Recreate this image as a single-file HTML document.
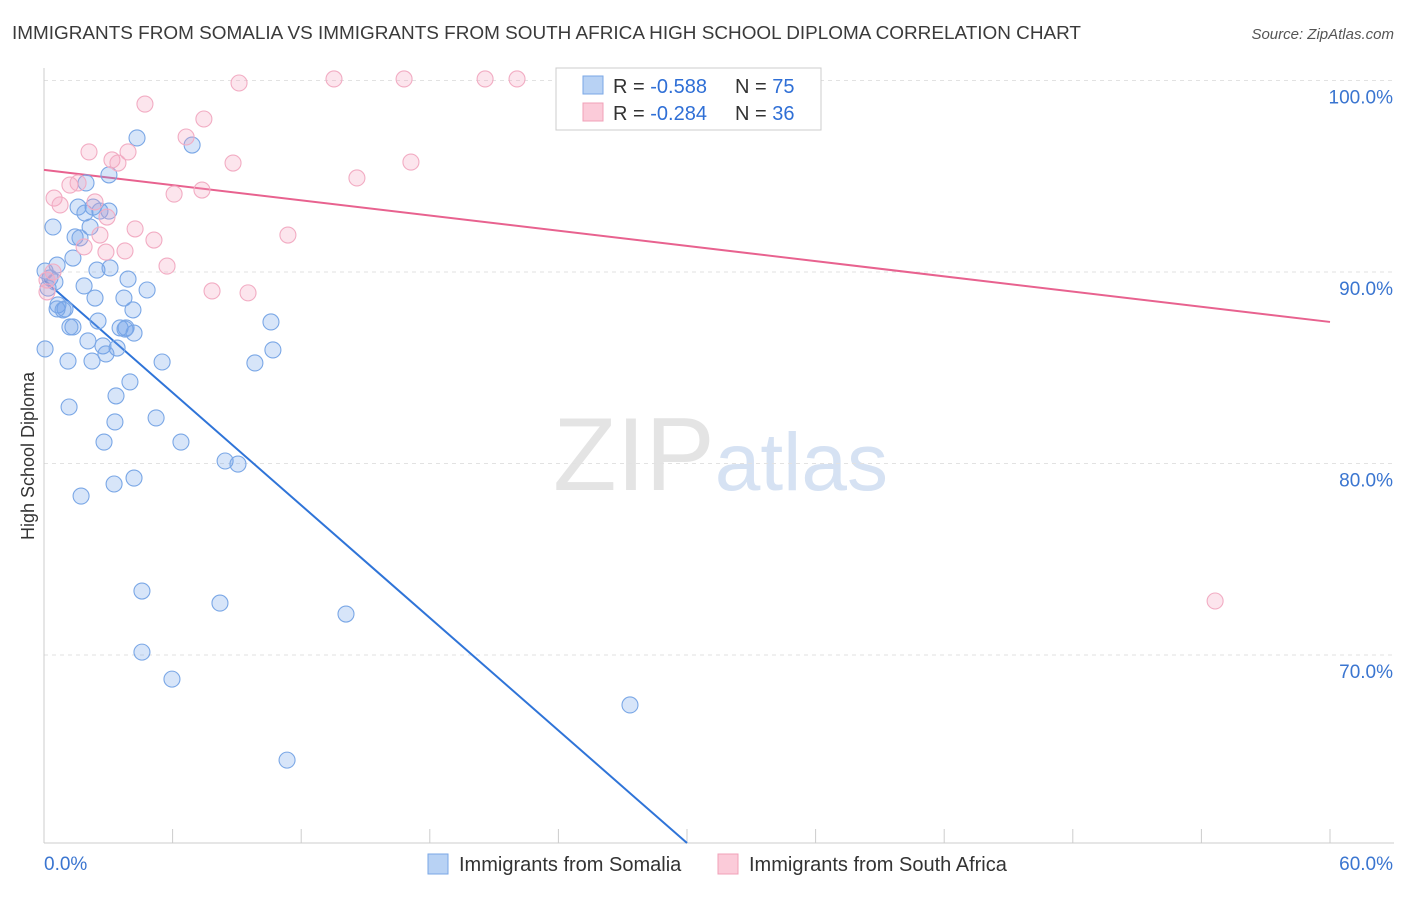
<!DOCTYPE html>
<html><head><meta charset="utf-8">
<style>
body{margin:0;background:#fff;font-family:"Liberation Sans",sans-serif;}
svg text{font-family:"Liberation Sans",sans-serif;}
</style></head>
<body>
<svg id="chart" width="1406" height="892" xmlns="http://www.w3.org/2000/svg">
<text x="12" y="39" font-size="18" fill="#3a3a3a" textLength="1069" lengthAdjust="spacingAndGlyphs">IMMIGRANTS FROM SOMALIA VS IMMIGRANTS FROM SOUTH AFRICA HIGH SCHOOL DIPLOMA CORRELATION CHART</text>
<text x="1394" y="39" font-size="15" fill="#555" font-style="italic" text-anchor="end">Source: ZipAtlas.com</text>
<text x="553" y="490" font-size="104" fill="#e4e4e4" font-family="Liberation Serif">ZIP<tspan fill="#d6e2f3" font-family="Liberation Sans" font-size="82">atlas</tspan></text>
<text transform="translate(34,456) rotate(-90)" font-size="18" fill="#333" text-anchor="middle">High School Diploma</text>
<g id="grid"></g><g id="axes"></g><g id="lines"></g><g id="pts"></g>
<g>
<rect x="556" y="68" width="265" height="62" fill="#fff" stroke="#ccc"/>
<rect x="583" y="76" width="20" height="18" fill="#b8d2f4" stroke="#7aa7e6"/>
<text x="613" y="93" font-size="20" fill="#333">R = <tspan fill="#2f6fd6">-0.588</tspan></text>
<text x="735" y="93" font-size="20" fill="#333">N = <tspan fill="#2f6fd6">75</tspan></text>
<rect x="583" y="103" width="20" height="18" fill="#fbcbd9" stroke="#f0a0b8"/>
<text x="613" y="120" font-size="20" fill="#333">R = <tspan fill="#2f6fd6">-0.284</tspan></text>
<text x="735" y="120" font-size="20" fill="#333">N = <tspan fill="#2f6fd6">36</tspan></text>
</g>
<g>
<rect x="428" y="854" width="20" height="20" fill="#b8d2f4" stroke="#7aa7e6"/>
<text x="459" y="871" font-size="20" fill="#333">Immigrants from Somalia</text>
<rect x="718" y="854" width="20" height="20" fill="#fbcbd9" stroke="#f0a0b8"/>
<text x="749" y="871" font-size="20" fill="#333">Immigrants from South Africa</text>
</g>
</svg>
<script>
const blueX=[4.34,6.91,3.03,1.96,0.42,1.59,2.29,2.61,3.03,1.91,1.45,1.68,2.15,1.35,0.61,0.05,0.28,0.51,0.19,2.47,3.08,3.92,4.81,1.87,2.38,3.73,0.65,0.98,0.61,4.15,2.52,1.35,1.21,3.55,3.83,4.20,2.05,2.75,3.41,2.89,0.05,1.12,2.24,5.51,9.84,10.68,10.59,4.01,3.36,1.17,5.23,3.31,2.80,6.39,8.45,9.05,4.20,3.27,1.73,4.57,8.21,14.09,4.57,5.97,27.34,11.34,0.89,3.78];
const blueY=[97.0,96.63,95.07,94.65,92.35,93.39,93.39,93.18,93.18,93.08,91.83,91.78,92.35,90.73,90.36,90.05,89.69,89.48,89.16,90.10,90.21,89.63,89.06,89.27,88.64,88.64,88.28,88.07,88.07,88.02,87.44,87.13,87.13,87.08,87.08,86.81,86.40,86.14,86.03,85.72,85.98,85.35,85.35,85.30,85.25,85.93,87.39,84.26,83.53,82.95,82.38,82.17,81.12,81.12,80.13,79.97,79.24,78.93,78.30,73.34,72.71,72.14,70.15,68.74,67.39,64.51,88.02,87.02];
const pinkX=[4.71,9.10,13.53,16.80,20.58,22.07,33.55,7.46,6.63,2.10,3.92,3.17,3.45,8.82,17.12,14.60,1.21,1.59,0.47,0.75,2.38,6.07,7.37,2.94,4.25,2.61,11.38,5.13,1.87,3.78,2.89,5.74,0.42,0.14,7.84,9.52,54.64,0.14];
const pinkY=[98.77,99.87,100.08,100.08,100.08,100.08,100.03,97.99,97.05,96.27,96.27,95.85,95.69,95.69,95.74,94.91,94.54,94.65,93.86,93.50,93.66,94.07,94.28,92.87,92.25,91.93,91.93,91.67,91.31,91.10,91.04,90.31,90.00,89.58,89.01,88.91,72.82,88.96];
const blueTrend=[89.58,-0.98];
const pinkTrend=[95.33,-0.1323];
const yTicks=[100,90,80,70];
const yTickLabels=["100.0%","90.0%","80.0%","70.0%"];
const xTicks=[0,6,12,18,24,30,36,42,48,54,60];
const NS="http://www.w3.org/2000/svg";
const X=v=>44+v/60*1286;
const Y=v=>80.5+(100-v)*19.15;
function mk(tag,attrs,parent){const e=document.createElementNS(NS,tag);for(const k in attrs)e.setAttribute(k,attrs[k]);document.getElementById(parent).appendChild(e);return e;}
yTicks.forEach((t,i)=>{
 const g=mk('line',{x1:44,x2:1394,y1:Y(t),y2:Y(t),stroke:'#e2e2e2','stroke-dasharray':'4,4'},'grid');
 
 
 const l=mk('text',{x:1393,y:Y(t)+23,'font-size':19,fill:'#3a75d0','text-anchor':'end'},'grid');
 l.textContent=yTickLabels[i];
 
 
});
const ax=mk('line',{x1:44,x2:44,y1:68,y2:843,stroke:'#ccc'},'axes');


const bx=mk('line',{x1:44,x2:1394,y1:843,y2:843,stroke:'#ccc'},'axes');


xTicks.forEach(t=>{
 const k=mk('line',{x1:X(t),x2:X(t),y1:829,y2:843,stroke:'#ccc'},'axes');
 
 
});
const xl0=mk('text',{x:44,y:870,'font-size':19,fill:'#3a75d0'},'axes');xl0.textContent='0.0%';


const xl1=mk('text',{x:1393,y:870,'font-size':19,fill:'#3a75d0','text-anchor':'end'},'axes');xl1.textContent='60.0%';


blueX.forEach((x,i)=>{
 const c=mk('circle',{cx:X(x),cy:Y(blueY[i]),r:8,fill:'rgba(110,160,235,0.28)',stroke:'#7aa7e6','stroke-width':1.1},'pts');
 
 
});
pinkX.forEach((x,i)=>{
 const c=mk('circle',{cx:X(x),cy:Y(pinkY[i]),r:8,fill:'rgba(245,160,190,0.28)',stroke:'#f2acc3','stroke-width':1.1},'pts');
 
 
});
const bEnd=(60.18-blueTrend[0])/blueTrend[1];
const bl=mk('line',{x1:X(0),y1:Y(blueTrend[0]),x2:X(bEnd),y2:Y(blueTrend[0]+blueTrend[1]*bEnd),stroke:'#2f74d8','stroke-width':2},'lines');


const pl=mk('line',{x1:X(0),y1:Y(pinkTrend[0]),x2:X(60),y2:Y(pinkTrend[0]+pinkTrend[1]*60),stroke:'#e8628f','stroke-width':2},'lines');


</script>
</body></html>
